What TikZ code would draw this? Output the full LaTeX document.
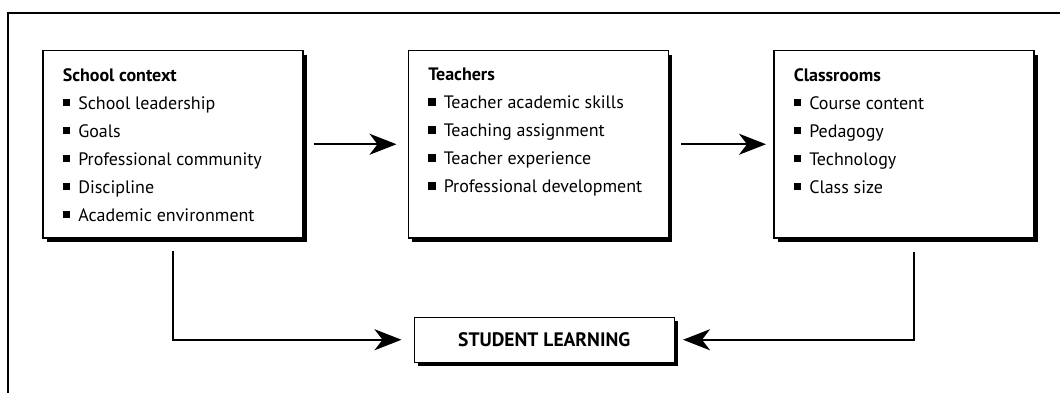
\documentclass[tikz,border=0pt]{standalone}
\usepackage{fontspec}
\setmainfont{PT Sans}
\usetikzlibrary{arrows.meta,positioning,shadows}

\newcommand{\sqb}{\rule[3pt]{7.5pt}{7.5pt}\hspace{8pt}}
\newcommand{\boxtext}[1]{\parbox[t][152pt][t]{220pt}{\raggedright #1}}

\begin{document}
\begin{tikzpicture}[>=Stealth, node distance=104pt,
  panel/.style={draw, line width=1.5pt, fill=white, inner xsep=20pt, inner ysep=17.5pt,
    font=\fontsize{18}{28}\selectfont,
    drop shadow={shadow xshift=4pt, shadow yshift=-4pt, opacity=1, fill=black}},
  conn/.style={draw, line width=2.5pt, -{Stealth[length=27pt, width=21pt, inset=8pt]}},
  frame/.style={draw, line width=1.5pt}
]
\useasboundingbox (0,0) rectangle (1060pt,-393pt);
\draw[frame] (8pt,-393pt) -- (8pt,-13pt) -- (1060pt,-13pt);

\node[panel, anchor=north west] (sc) at (42pt,-50pt) {\boxtext{\textbf{School context}\\
  \sqb School leadership\\
  \sqb Goals\\
  \sqb Professional community\\
  \sqb Discipline\\
  \sqb Academic environment}};
\node[panel, right=of sc] (tc) {\boxtext{\textbf{Teachers}\\
  \sqb Teacher academic skills\\
  \sqb Teaching assignment\\
  \sqb Teacher experience\\
  \sqb Professional development}};
\node[panel, right=of tc] (cr) {\boxtext{\textbf{Classrooms}\\
  \sqb Course content\\
  \sqb Pedagogy\\
  \sqb Technology\\
  \sqb Class size}};
\node[panel, inner sep=0pt, minimum width=260pt, minimum height=45pt,
  font=\bfseries\fontsize{19.5}{20}\selectfont, below=78pt of tc, xshift=6pt] (sl) {STUDENT LEARNING};

% Influence paths
\draw[conn, shorten <=10pt, shorten >=11pt] (sc) -- (tc);
\draw[conn, shorten <=12pt, shorten >=7pt] (tc) -- (cr);
\draw[conn, shorten <=12pt, shorten >=12pt] (sc.south) |- (sl.west);
\draw[conn, shorten <=13pt, shorten >=8pt] ([xshift=10pt]cr.south) |- (sl.east);
\end{tikzpicture}
\end{document}
